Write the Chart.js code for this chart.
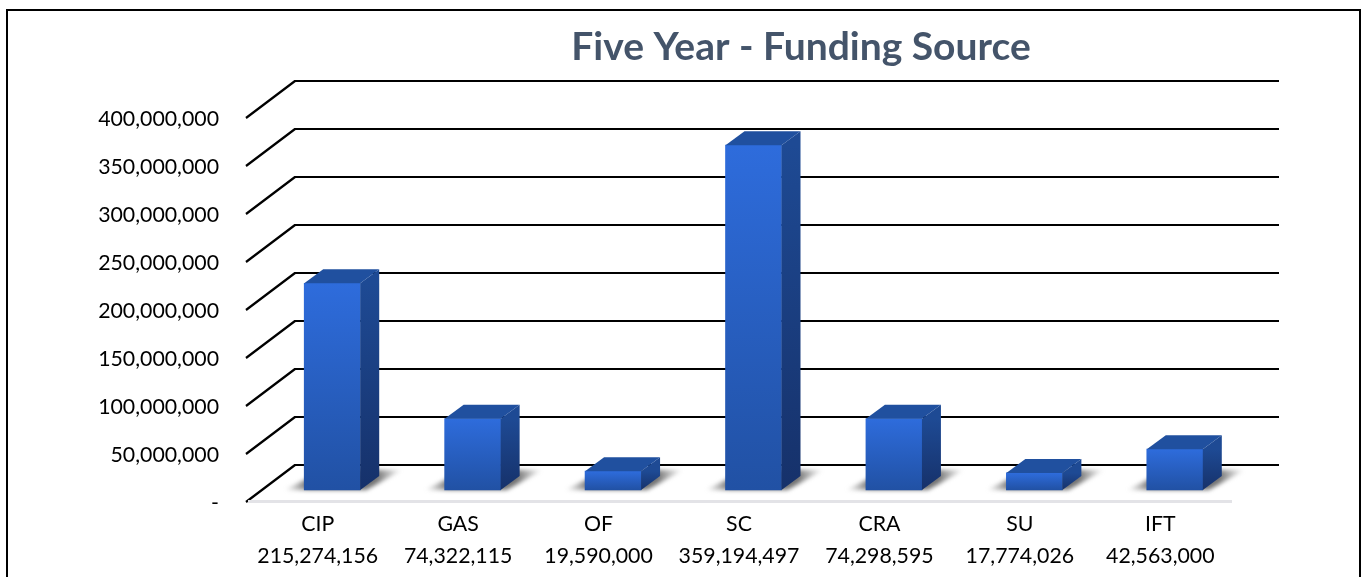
<!DOCTYPE html>
<html>
<head>
<meta charset="utf-8">
<title>Five Year - Funding Source</title>
<script src="https://cdn.jsdelivr.net/npm/chart.js@4"></script>
<style>
    html, body { margin: 0; padding: 0; background: #fff; overflow: hidden; }
    #frame { position: absolute; left: 6px; top: 9px; width: 1355px; height: 568px;
             border: solid #000; border-width: 2px 2px 0 2px; box-sizing: border-box; }
    #grafico { position: absolute; left: 0; top: 0; }
</style>
</head>
<body>
<canvas id="grafico" width="1369" height="577"></canvas>
<div id="frame"></div>
<script>
const titolo = "Five Year - Funding Source";
const categorie = ["CIP", "GAS", "OF", "SC", "CRA", "SU", "IFT"];
const valori = [215274156, 74322115, 19590000, 359194497, 74298595, 17774026, 42563000];
const assePassi = [0, 50000000, 100000000, 150000000, 200000000, 250000000, 300000000, 350000000, 400000000];

// wall and bar depth of the fake 3D look
const muroDx = 49, muroDy = 37;
const barraDx = 19, barraDy = 14;
const muroSx = 246, muroDxFine = 1279, pavimentoFine = 1232;

function numero(v){
    return v.toLocaleString("en-US");
}

function gradienteBarra(ctx, top, base, c1, c2){
    var g = ctx.createLinearGradient(0, top, 0, base);
    g.addColorStop(0, c1);
    g.addColorStop(1, c2);
    return g;
}

// back wall lines and floor, drawn under the bars
const muroPlugin = {
    id: "muro",
    beforeDatasetsDraw(chart){
        const ctx = chart.ctx;
        const y = chart.scales.y;
        ctx.save();
        ctx.strokeStyle = "#000";
        ctx.lineWidth = 2.2;
        ctx.lineJoin = "round";
        y.ticks.forEach(t => {
            const py = y.getPixelForValue(t.value);
            ctx.beginPath();
            ctx.moveTo(muroSx, py);
            ctx.lineTo(muroSx + muroDx, py - muroDy);
            ctx.lineTo(muroDxFine, py - muroDy);
            ctx.stroke();
        });

        // floor edge
        const y0 = y.getPixelForValue(0);
        ctx.fillStyle = "#e3e3e7";
        ctx.fillRect(muroSx + 2, y0 - 2, pavimentoFine - muroSx - 2, 3);

        // soft shadows under each bar
        ctx.filter = "blur(2px)";
        chart.getDatasetMeta(0).data.forEach(el => {
            const sx = el.x - el.width / 2, dx = el.x + el.width / 2, b = el.base;
            const g = ctx.createLinearGradient(sx - 20, 0, dx + 42, 0);
            g.addColorStop(0, "rgba(120,120,120,0)");
            g.addColorStop(0.2, "rgba(100,100,100,0.9)");
            g.addColorStop(0.78, "rgba(100,100,100,0.9)");
            g.addColorStop(1, "rgba(120,120,120,0)");
            ctx.fillStyle = g;
            ctx.beginPath();
            ctx.moveTo(sx - 20, b);
            ctx.lineTo(dx + 6, b);
            ctx.lineTo(dx + 42, b - 20);
            ctx.lineTo(sx + 20, b - 20);
            ctx.closePath();
            ctx.fill();
        });
        ctx.restore();
    },
    afterDatasetsDraw(chart){
        const ctx = chart.ctx;
        ctx.save();
        chart.getDatasetMeta(0).data.forEach(el => {
            const sx = el.x - el.width / 2, dx = el.x + el.width / 2;
            // right face
            ctx.fillStyle = gradienteBarra(ctx, el.y, el.base, "#1e4a94", "#16316a");
            ctx.beginPath();
            ctx.moveTo(dx, el.y);
            ctx.lineTo(dx + barraDx, el.y - barraDy);
            ctx.lineTo(dx + barraDx, el.base - barraDy);
            ctx.lineTo(dx, el.base);
            ctx.closePath();
            ctx.fill();
            // top face
            ctx.fillStyle = "#20509f";
            ctx.beginPath();
            ctx.moveTo(sx, el.y);
            ctx.lineTo(sx + barraDx, el.y - barraDy);
            ctx.lineTo(dx + barraDx, el.y - barraDy);
            ctx.lineTo(dx, el.y);
            ctx.closePath();
            ctx.fill();
        });
        ctx.restore();

        // heading sits over the plot, off the canvas centre
        ctx.save();
        ctx.font = "bold 39px Lato";
        ctx.fillStyle = "#44546a";
        ctx.textAlign = "center";
        ctx.textBaseline = "middle";
        ctx.fillText(titolo, 801, 47);
        ctx.restore();
    }
};

document.addEventListener("DOMContentLoaded", () => {
    const context = document.getElementById("grafico").getContext("2d");

    new Chart(context, {
        type: "bar",
        data: {
            labels: categorie.map((c, i) => [c, numero(valori[i])]),
            datasets: [{
                data: valori,
                yAxisID: "yBarre",
                barThickness: 56,
                backgroundColor: function(c){
                    const scala = c.chart.scales.yBarre;
                    if (!scala || c.raw === undefined) return "#2a62c8";
                    const top = scala.getPixelForValue(c.raw), base = scala.getPixelForValue(0);
                    if (!isFinite(top) || !isFinite(base)) return "#2a62c8";
                    return gradienteBarra(c.chart.ctx, top, base, "#2e6cdc", "#2151a4");
                }
            }]
        },
        plugins: [muroPlugin],
        options: {
            responsive: false,
            animation: false,
            layout: { padding: { top: 118, right: 124, bottom: 0, left: 0 } },
            plugins: { legend: { display: false }, title: { display: false }, tooltip: { enabled: false } },
            scales: {
                x: {
                    grid: { display: false, drawTicks: false },
                    border: { display: false },
                    afterFit: s => { s.height = 75; },
                    ticks: {
                        color: "#000",
                        font: { family: "Lato", size: 21.3, lineHeight: 1.5 },
                        padding: 6,
                        labelOffset: -14.5,
                        autoSkip: false,
                        maxRotation: 0
                    }
                },
                y: {
                    min: 0,
                    max: 400000000,
                    grid: { display: false, drawTicks: false },
                    border: { display: false },
                    afterFit: s => { s.width = 262; },
                    afterBuildTicks: s => { s.ticks = assePassi.map(v => ({ value: v })); },
                    ticks: {
                        color: "#000",
                        font: { family: "Lato", size: 21.3 },
                        padding: 43,
                        labelOffset: 1,
                        callback: v => v === 0 ? "-" : numero(v)
                    }
                },
                // same scale as y, lifted so the bars stand on the floor in front of the wall
                yBarre: {
                    display: false,
                    min: -12500000,
                    max: 387500000
                }
            }
        }
    });
});
</script>
</body>
</html>
